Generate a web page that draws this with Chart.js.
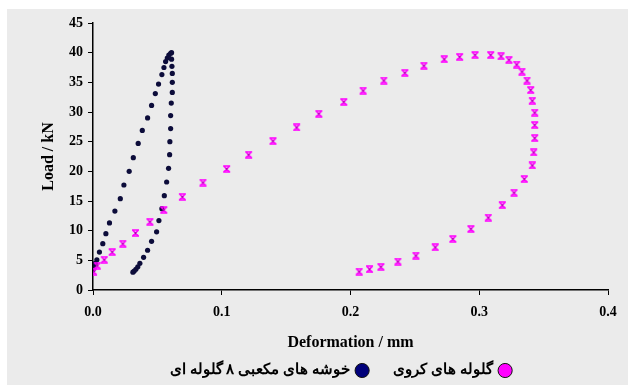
<!DOCTYPE html>
<html lang="en">
<head>
<meta charset="UTF-8">
<title>Load vs Deformation</title>
<script src="https://cdn.jsdelivr.net/npm/chart.js"></script>
<style>
  body { margin: 0; background: #fff; }
  #wrap { width: 628px; height: 385px; }
</style>
</head>
<body>
<div id="wrap"><canvas id="chart"></canvas></div>
<script>
// Deformation (mm) / Load (kN)
const cubicX = [0.000, 0.0006, 0.0017, 0.003, 0.005, 0.0076, 0.010, 0.0128, 0.017, 0.0212, 0.024, 0.0281, 0.0313, 0.0351, 0.0383, 0.0424, 0.0455, 0.0484, 0.0509, 0.0535, 0.0551, 0.0564, 0.0577, 0.0589, 0.0603, 0.061,
                0.061, 0.0613, 0.0616, 0.0616, 0.0616, 0.0608, 0.0603, 0.0603, 0.0597, 0.0595, 0.0587, 0.0572, 0.0554, 0.0535, 0.0512, 0.0494, 0.0455, 0.0424, 0.0393, 0.0364, 0.0348, 0.0333, 0.032, 0.031];
const cubicY = [3.4, 3.9, 4.5, 5.1, 6.4, 7.8, 9.5, 11.3, 13.3, 15.4, 17.7, 20.0, 22.3, 24.7, 26.9, 29.0, 31.1, 33.1, 34.7, 36.3, 37.5, 38.5, 39.1, 39.6, 39.9, 40.0,
                38.9, 37.7, 36.5, 35.0, 33.3, 31.5, 29.4, 27.2, 25.0, 22.8, 20.5, 18.2, 15.9, 13.7, 11.7, 9.8, 8.2, 6.7, 5.5, 4.5, 3.9, 3.5, 3.2, 3.0];

const sphereX = [0.0004, 0.0033, 0.0087, 0.0149, 0.0232, 0.033, 0.0442, 0.055, 0.0694, 0.0854, 0.1038, 0.1209, 0.1398, 0.1582, 0.1754, 0.1948, 0.2098, 0.2259, 0.2422, 0.257, 0.2728, 0.2848, 0.2967, 0.3089, 0.3169, 0.3231, 0.3291, 0.3332, 0.3371, 0.34, 0.3412, 0.3431, 0.3431, 0.3431, 0.3423, 0.3412, 0.335, 0.327, 0.3179, 0.307, 0.2935, 0.2795, 0.2658, 0.2508, 0.2368, 0.2236, 0.2148, 0.2067];
const sphereY = [3.1, 4.1, 5.1, 6.4, 7.8, 9.6, 11.5, 13.5, 15.7, 18.1, 20.4, 22.8, 25.1, 27.4, 29.7, 31.7, 33.6, 35.3, 36.6, 37.8, 38.9, 39.3, 39.6, 39.6, 39.4, 38.8, 38.0, 36.8, 35.3, 33.7, 31.9, 29.9, 27.8, 25.6, 23.2, 21.0, 18.7, 16.4, 14.3, 12.2, 10.3, 8.6, 7.2, 5.8, 4.8, 3.9, 3.5, 3.1];

const seriesNames = ['گلوله های کروی', 'خوشه های مکعبی ۸ گلوله ای'];
const xTicks = [0, 0.1, 0.2, 0.3, 0.4];
const yTicks = [0, 5, 10, 15, 20, 25, 30, 35, 40, 45];

const toPoints = (xs, ys) => xs.map((x, i) => ({ x: x, y: ys[i] }));

// hourglass marker for the spherical series
const glass = document.createElement('canvas');
glass.width = 9; glass.height = 8;
(function () {
  const g = glass.getContext('2d');
  g.strokeStyle = '#ff00ff';
  g.lineWidth = 1.6;
  g.beginPath();
  g.moveTo(1, 1); g.lineTo(8, 1);
  g.moveTo(1, 7); g.lineTo(8, 7);
  g.moveTo(1.5, 1); g.lineTo(7.5, 7);
  g.moveTo(7.5, 1); g.lineTo(1.5, 7);
  g.stroke();
  g.fillStyle = '#b000b0';
  g.fillRect(3.5, 3, 2, 2);
})();

const bgPlugin = {
  id: 'bg',
  beforeDraw(chart) {
    const c = chart.ctx;
    c.save();
    c.fillStyle = '#ebebeb';
    c.fillRect(7, 9, chart.width - 7, chart.height - 9);
    c.restore();
  }
};

// legend: wide gap between items but a short strip, placed right of centre
const LEGEND_PAD = 26;
const legendPlace = {
  id: 'legendPlace',
  beforeLayout(chart) {
    const lg = chart.legend;
    if (lg && !lg._short) {
      const fit = lg.fit.bind(lg);
      lg.fit = function () { fit(); this.height = 26; };
      lg._short = true;
    }
  },
  afterLayout(chart) {
    const lg = chart.legend;
    if (!lg) return;
    lg.left += 36;
    lg.right += 36;
    lg.top = 372 - LEGEND_PAD - 9;
  }
};

const serif = '"Liberation Serif", "Times New Roman", serif';

new Chart(document.getElementById('chart'), {
  type: 'scatter',
  data: {
    datasets: [{
      label: seriesNames[0],
      data: toPoints(sphereX, sphereY),
      pointStyle: glass,
      backgroundColor: '#ff00ff',
      borderColor: '#ff00ff'
    }, {
      label: seriesNames[1],
      data: toPoints(cubicX, cubicY),
      pointStyle: 'circle',
      pointRadius: 2.6,
      backgroundColor: '#0c0c3a',
      borderColor: '#0c0c3a',
      borderWidth: 0
    }]
  },
  options: {
    responsive: true,
    maintainAspectRatio: false,
    animation: false,
    layout: { padding: { top: 23, right: 20, left: 0, bottom: 0 } },
    plugins: {
      tooltip: { enabled: false },
      legend: {
        position: 'bottom',
        rtl: true,
        labels: {
          font: { family: serif, size: 15, weight: 'bold' },
          color: '#000',
          usePointStyle: true,
          boxWidth: 10,
          boxHeight: 10,
          padding: LEGEND_PAD,
          generateLabels(chart) {
            const fills = ['#ff00ff', '#00007a'];
            return chart.data.datasets.map((ds, i) => ({
              text: ds.label,
              fillStyle: fills[i],
              strokeStyle: '#111',
              lineWidth: 1,
              pointStyle: 'circle',
              datasetIndex: i,
              fontColor: '#000'
            }));
          }
        }
      }
    },
    scales: {
      x: {
        type: 'linear',
        min: 0, max: 0.4,
        afterBuildTicks(scale) { scale.ticks = xTicks.map(v => ({ value: v })); },
        afterFit(scale) { scale.height = 69; },
        ticks: {
          color: '#000',
          font: { family: serif, size: 14, weight: 'bold' },
          padding: 9,
          callback: v => v.toFixed(1)
        },
        grid: { drawOnChartArea: false, color: '#000', tickLength: 5, tickColor: '#000' },
        border: { color: '#000', width: 1.5 },
        title: {
          display: true,
          text: 'Deformation / mm',
          color: '#000',
          font: { family: serif, size: 16, weight: 'bold' },
          padding: { top: 4, bottom: 7 }
        }
      },
      y: {
        min: 0, max: 45,
        afterBuildTicks(scale) { scale.ticks = yTicks.map(v => ({ value: v })); },
        afterFit(scale) { scale.width = 93; },
        ticks: {
          color: '#000',
          font: { family: serif, size: 14, weight: 'bold' },
          padding: 5
        },
        grid: { drawOnChartArea: false, color: '#000', tickLength: 5, tickColor: '#000' },
        border: { color: '#000', width: 1.5 },
        title: {
          display: true,
          text: 'Load / kN',
          color: '#000',
          font: { family: serif, size: 16, weight: 'bold' },
          padding: { top: 39, bottom: 0 }
        }
      }
    }
  },
  plugins: [bgPlugin, legendPlace]
});
</script>
</body>
</html>
